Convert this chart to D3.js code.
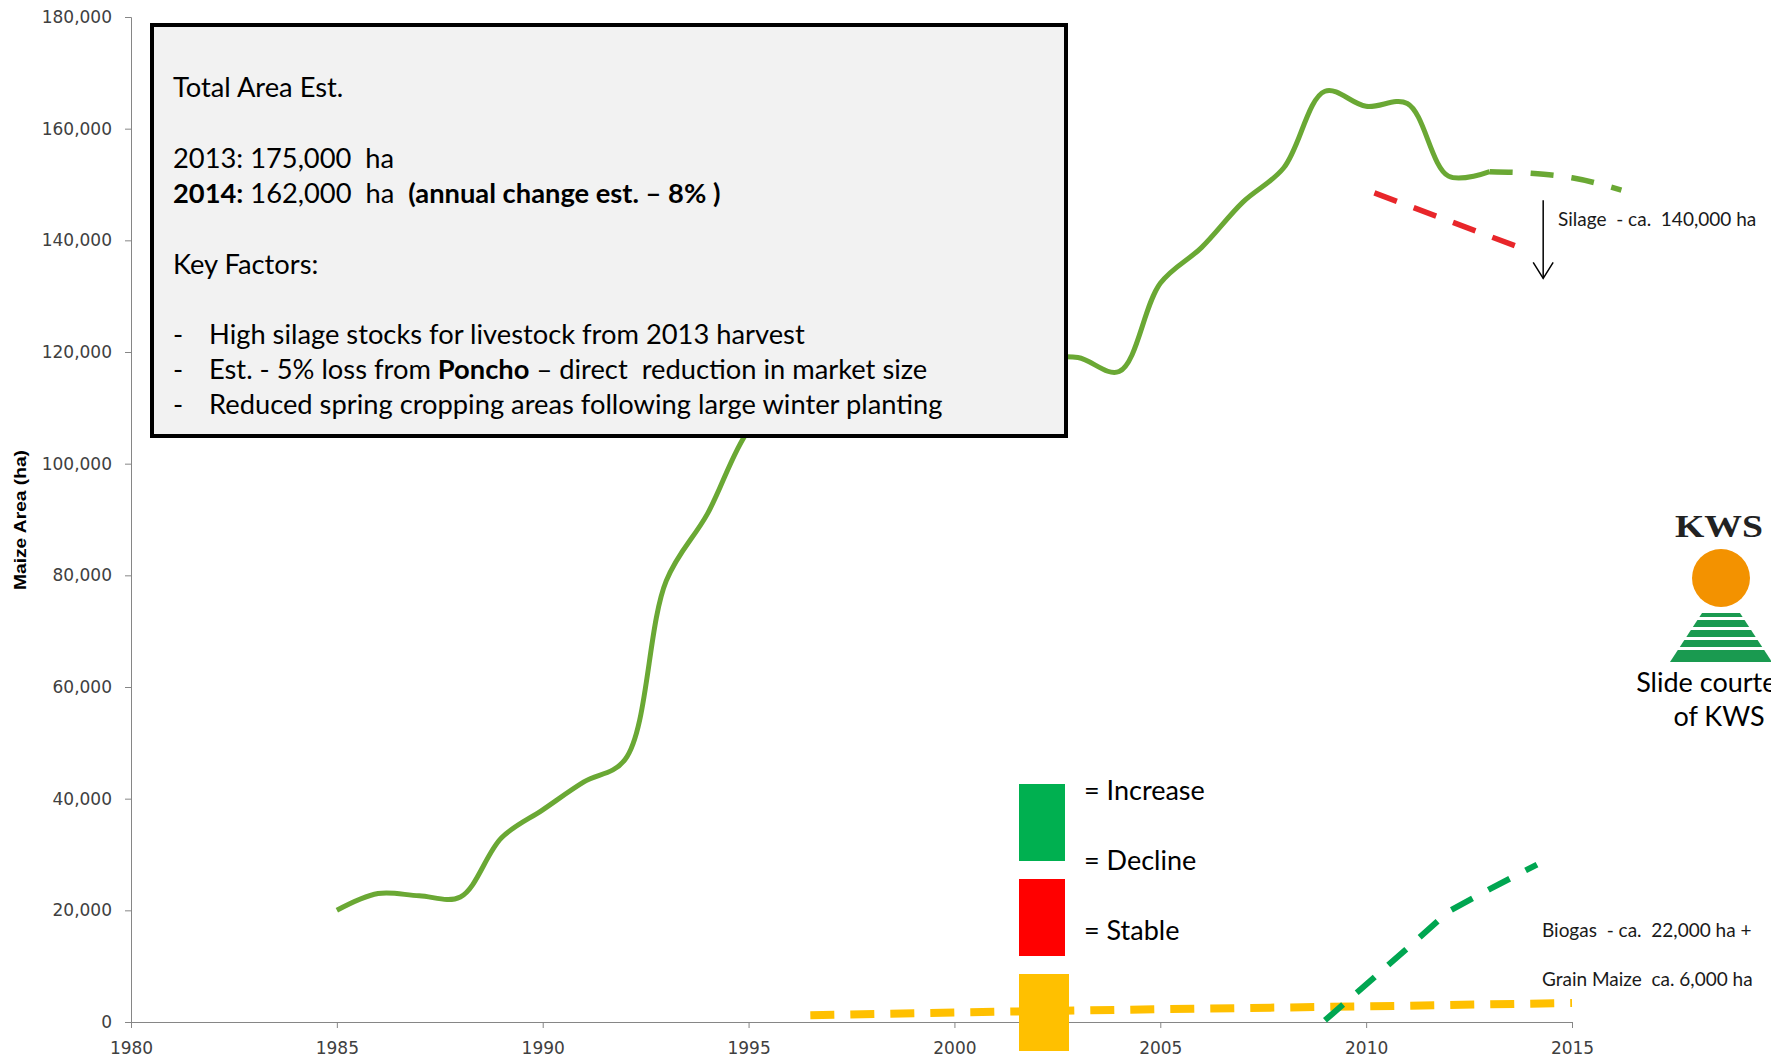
<!DOCTYPE html>
<html>
<head>
<meta charset="utf-8">
<script src="https://cdn.jsdelivr.net/npm/d3@7"></script>
<style>
  body { margin: 0; background: #fff; overflow: hidden; }
  svg { display: block; }
</style>
</head>
<body>
<div id="chart"></div>
<script>
// ---- data ----
var silageYears  = [1985,1986,1987,1988,1989,1990,1991,1992,1993,1994,1995,1996,1997,1998,1999,
                    2000,2001,2002,2003,2004,2005,2006,2007,2008,2009,2010,2011,2012,2013];
var silageValues = [20000,23000,22600,22400,33000,38000,43000,47000,79000,91000,106000,113000,116000,118000,119000,
                    120000,120000,119000,119000,116500,132300,138700,146800,153000,166700,164000,164500,151500,152300];

var silageFcYears  = [2013, 2014, 2015, 2016.2];
var silageFcValues = [152300, 152000, 151200, 149000];

var declineYears  = [2010.2, 2013.7];
var declineValues = [148500, 138800];

var biogasYears  = [2009, 2010, 2011, 2012, 2013, 2014.15];
var biogasValues = [300, 6700, 13200, 19800, 23800, 28200];

var grainYears  = [1996.5, 2000, 2005, 2010, 2015];
var grainValues = [1200, 1700, 2300, 2800, 3400];

var yTicks = [0,20000,40000,60000,80000,100000,120000,140000,160000,180000];
var xTicks = [1980,1985,1990,1995,2000,2005,2010,2015];

var legendLabels = ["= Increase", "= Decline", "= Stable"];
var legendColors = ["#00b050", "#ff0000", "#ffc000"];

// box text: each line is a list of [text, bold]
var boxLines = [
  [["Total Area Est.", false]],
  [["2013: 175,000  ha", false]],
  [["2014:", true], [" 162,000  ha  ", false], ["(annual change est. \u2013 8% )", true]],
  [["Key Factors:", false]],
  [["High silage stocks for livestock from 2013 harvest", false]],
  [["Est. - 5% loss from ", false], ["Poncho", true], [" \u2013 direct  reduction in market size", false]],
  [["Reduced spring cropping areas following large winter planting", false]]
];
var boxBaselines = [97, 168, 203, 274, 344, 379, 414];
var boxBullets   = [false, false, false, false, true, true, true];

// ---- setup ----
var W = 1771, H = 1059;
var svg = d3.select("#chart").append("svg")
    .attr("width", W).attr("height", H);
svg.append("rect").attr("width", W).attr("height", H).attr("fill", "#fff");

var x = d3.scaleLinear().domain([1980, 2015]).range([131, 1572]);
var y = d3.scaleLinear().domain([0, 180000]).range([1022, 17]);

var txtFont = "Lato, 'Open Sans', sans-serif";

// y axis
var yAxis = svg.append("g")
    .attr("transform", "translate(131,0)")
    .call(d3.axisLeft(y).tickValues(yTicks).tickFormat(d3.format(",")).tickSize(6).tickPadding(13));
// x axis
var xAxis = svg.append("g")
    .attr("transform", "translate(0,1022)")
    .call(d3.axisBottom(x).tickValues(xTicks).tickFormat(d3.format("d")).tickSize(6).tickPadding(14));

[yAxis, xAxis].forEach(function(g) {
  g.select(".domain").attr("stroke", "#868686");
  g.selectAll(".tick line").attr("stroke", "#868686");
  g.selectAll(".tick text")
    .attr("fill", "#404040")
    .style("font-family", "'DejaVu Sans', Verdana, sans-serif")
    .style("font-size", "17px");
});

// y axis title
svg.append("text")
    .attr("transform", "translate(26,520) rotate(-90)")
    .attr("text-anchor", "middle")
    .attr("textLength", 140).attr("lengthAdjust", "spacingAndGlyphs")
    .style("font-family", "'Liberation Sans Narrow', 'Arial Narrow', 'Liberation Sans', sans-serif")
    .style("font-weight", "bold")
    .style("font-size", "16px")
    .text("Maize Area (ha)");

// ---- lines ----
function lineGen(curve) {
  return d3.line()
    .x(function(d) { return x(d[0]); })
    .y(function(d) { return y(d[1]); })
    .curve(curve);
}

// grain maize (yellow dashed)
svg.append("path")
    .datum(d3.zip(grainYears, grainValues))
    .attr("d", lineGen(d3.curveLinear))
    .attr("fill", "none").attr("stroke", "#ffc000")
    .attr("stroke-width", 8).attr("stroke-dasharray", "24,16");

// silage actual
svg.append("path")
    .datum(d3.zip(silageYears, silageValues))
    .attr("d", lineGen(d3.curveCatmullRom))
    .attr("fill", "none").attr("stroke", "#6aa834")
    .attr("stroke-width", 5).attr("stroke-linejoin", "round");

// silage forecast
svg.append("path")
    .datum(d3.zip(silageFcYears, silageFcValues))
    .attr("d", lineGen(d3.curveMonotoneX))
    .attr("fill", "none").attr("stroke", "#6aa834")
    .attr("stroke-width", 5.5).attr("stroke-dasharray", "23,18");

// decline (red dashed)
svg.append("path")
    .datum(d3.zip(declineYears, declineValues))
    .attr("d", lineGen(d3.curveLinear))
    .attr("fill", "none").attr("stroke", "#e8262a")
    .attr("stroke-width", 5.5).attr("stroke-dasharray", "24,18");

// biogas (green dashed)
svg.append("path")
    .datum(d3.zip(biogasYears, biogasValues))
    .attr("d", lineGen(d3.curveLinear))
    .attr("fill", "none").attr("stroke", "#00a651")
    .attr("stroke-width", 6).attr("stroke-dasharray", "24,18");

// arrow
var ax = x(2014.3), ay0 = y(147200), ay1 = y(133200);
svg.append("line").attr("x1", ax).attr("x2", ax).attr("y1", ay0).attr("y2", ay1)
    .attr("stroke", "#000").attr("stroke-width", 1.5);
svg.append("path")
    .attr("d", "M" + (ax - 10) + "," + (ay1 - 16) + "L" + ax + "," + ay1 + "L" + (ax + 10) + "," + (ay1 - 16))
    .attr("fill", "none").attr("stroke", "#000").attr("stroke-width", 1.5);

// annotation labels
var noteFont = "19px";
svg.append("text").attr("x", 1558).attr("y", 226)
    .style("font-family", txtFont).style("font-size", noteFont).attr("fill", "#1a1a1a")
    .attr("xml:space", "preserve")
    .text("Silage  - ca.  140,000 ha");
svg.append("text").attr("x", 1542).attr("y", 937)
    .style("font-family", txtFont).style("font-size", noteFont).attr("fill", "#1a1a1a")
    .attr("xml:space", "preserve")
    .text("Biogas  - ca.  22,000 ha +");
svg.append("text").attr("x", 1542).attr("y", 986)
    .style("font-family", txtFont).style("font-size", noteFont).attr("fill", "#1a1a1a")
    .attr("xml:space", "preserve")
    .text("Grain Maize  ca. 6,000 ha");

// ---- info box ----
svg.append("rect")
    .attr("x", 152).attr("y", 25).attr("width", 914).attr("height", 411)
    .attr("fill", "#f2f2f2").attr("stroke", "#000").attr("stroke-width", 4);

boxLines.forEach(function(parts, i) {
  if (boxBullets[i]) {
    svg.append("text").attr("x", 173).attr("y", boxBaselines[i])
      .style("font-family", txtFont).style("font-size", "27.3px").text("-");
  }
  var t = svg.append("text")
      .attr("x", boxBullets[i] ? 209 : 173)
      .attr("y", boxBaselines[i])
      .attr("xml:space", "preserve")
      .attr("fill", "#000")
      .style("font-family", txtFont)
      .style("font-size", "27.3px");
  parts.forEach(function(p) {
    t.append("tspan").style("font-weight", p[1] ? "bold" : "normal").text(p[0]);
  });
});

// ---- legend squares ----
legendColors.forEach(function(c, i) {
  svg.append("rect")
    .attr("x", 1019).attr("y", 784 + i * 95)
    .attr("width", i === 2 ? 50 : 46).attr("height", 77)
    .attr("fill", c);
});
legendLabels.forEach(function(l, i) {
  svg.append("text")
    .attr("x", 1084).attr("y", 800 + i * 70)
    .style("font-family", txtFont).style("font-size", "27px")
    .attr("fill", "#000")
    .text(l);
});

// ---- KWS logo ----
var logo = svg.append("g");
logo.append("text").attr("x", 1719).attr("y", 537)
    .attr("text-anchor", "middle")
    .attr("textLength", 88).attr("lengthAdjust", "spacingAndGlyphs")
    .style("font-family", "'Liberation Serif', 'DejaVu Serif', serif")
    .style("font-weight", "bold").style("font-size", "31px")
    .attr("fill", "#222")
    .text("KWS");
logo.append("circle").attr("cx", 1721).attr("cy", 578).attr("r", 29).attr("fill", "#f39200");
var bands = [[613, 617], [620, 627], [630, 637], [640, 647], [650, 662]];
var topY = 613, botY = 662, topL = 1702, topR = 1740, botL = 1670, botR = 1772;
function edgeAt(yy, a, b) { return a + (b - a) * (yy - topY) / (botY - topY); }
bands.forEach(function(b) {
  logo.append("path")
    .attr("d", "M" + edgeAt(b[0], topL, botL) + "," + b[0] +
               "L" + edgeAt(b[0], topR, botR) + "," + b[0] +
               "L" + edgeAt(b[1], topR, botR) + "," + b[1] +
               "L" + edgeAt(b[1], topL, botL) + "," + b[1] + "Z")
    .attr("fill", "#1a9a50");
});
logo.append("text").attr("x", 1719).attr("y", 692)
    .attr("text-anchor", "middle")
    .style("font-family", txtFont).style("font-size", "27px").attr("fill", "#000")
    .text("Slide courtesy");
logo.append("text").attr("x", 1719).attr("y", 726)
    .attr("text-anchor", "middle")
    .style("font-family", txtFont).style("font-size", "27px").attr("fill", "#000")
    .text("of KWS");
</script>
</body>
</html>
